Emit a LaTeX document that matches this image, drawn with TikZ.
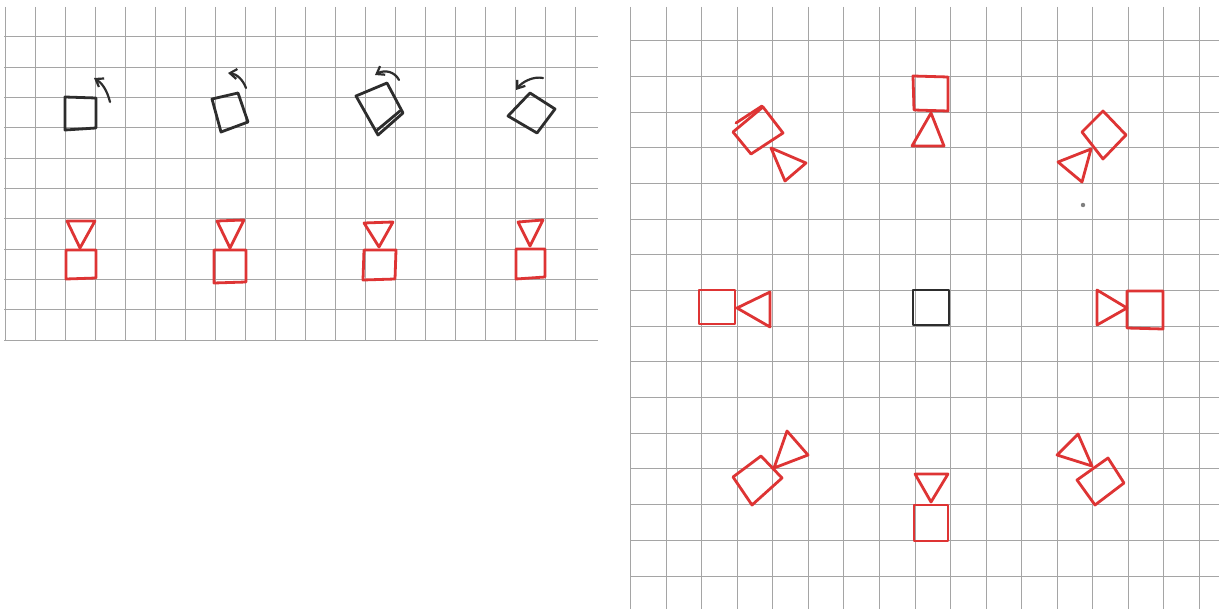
\documentclass[tikz,border=0pt]{standalone}
\usetikzlibrary{arrows.meta}
\definecolor{gridgray}{RGB}{165,165,165}
\definecolor{penred}{RGB}{222,52,52}
\definecolor{penblack}{RGB}{45,45,45}
\begin{document}
\begin{tikzpicture}[x=0.5pt,y=-0.5pt,
  gridline/.style={draw=gridgray,line width=0.5pt},
  redpen/.style={draw=penred,line width=1.4pt,line join=round,line cap=round},
  blackpen/.style={draw=penblack,line width=1.4pt,line join=round,line cap=round},
  turn/.style={draw=penblack,line width=1.1pt,line cap=round,-{Straight Barb[length=3.5pt,width=5pt]}}]
\useasboundingbox[fill=white] (0,0) rectangle (1219,609);
% grids
\foreach \k in {0,...,19} \draw[gridline] ({5+30*\k},7) -- ({5+30*\k},340);
\foreach \k in {0,...,10} \draw[gridline] (4,{37+30.3*\k}) -- (598,{37+30.3*\k});
\foreach \k in {0,...,16} \draw[gridline] ({630.7+35.54*\k},7) -- ({630.7+35.54*\k},609);
\foreach \k in {0,...,15} \draw[gridline] (630.7,{40.7+35.69*\k}) -- (1219,{40.7+35.69*\k});
% left panel: black rotating squares
\draw[blackpen] (65,97) -- (96,98) -- (96,128) -- (65,130) -- cycle;
\draw[turn] (110,102) .. controls (107,90) and (102,83) .. (94,78);
\draw[blackpen] (212,99) -- (238,93) -- (248,122) -- (221,132) -- cycle;
\draw[turn] (246,88) .. controls (243,80) and (237,74) .. (228,73);
\draw[blackpen] (356,96) -- (387,83) -- (403,113) -- (378,135) -- cycle;
\draw[blackpen] (400,111) -- (376,131);
\draw[turn] (399,80) .. controls (395,72) and (385,69) .. (375,75);
\draw[blackpen] (508,116) -- (530,93) -- (555,109) -- (537,133) -- cycle;
\draw[turn] (543,78) .. controls (533,76) and (522,82) .. (516,90);
% left panel: red cameras
\draw[redpen] (67,221) -- (95,221) -- (80,248) -- cycle;
\draw[redpen] (66,250) -- (96,250) -- (96,278) -- (66,279) -- cycle;
\draw[redpen] (217,221) -- (244,220) -- (230,248) -- cycle;
\draw[redpen] (214,250) -- (246,250) -- (246,282) -- (214,283) -- cycle;
\draw[redpen] (364,223) -- (393,222) -- (379,247) -- cycle;
\draw[redpen] (364,250) -- (396,250) -- (395,279) -- (363,280) -- cycle;
\draw[redpen] (518,222) -- (543,220) -- (530,246) -- cycle;
\draw[redpen] (516,249) -- (545,249) -- (545,277) -- (516,279) -- cycle;
% right panel: centre object
\draw[blackpen] (913,290) -- (949,290) -- (949,325) -- (913,325) -- cycle;
% N
\draw[redpen] (913,76) -- (948,77) -- (948,111) -- (914,110) -- cycle;
\draw[redpen] (931,113) -- (944,146) -- (912,146) -- cycle;
% S
\draw[redpen] (915,474) -- (948,474) -- (931,502) -- cycle;
\draw[redpen] (914,505) -- (948,505) -- (948,541) -- (914,541) -- cycle;
% W
\draw[redpen] (699,290) -- (735,290) -- (735,324) -- (699,324) -- cycle;
\draw[redpen] (737,308) -- (770,292) -- (770,327) -- cycle;
% E
\draw[redpen] (1097,290) -- (1127,308) -- (1097,325) -- cycle;
\draw[redpen] (1127,291) -- (1163,291) -- (1163,329) -- (1127,328) -- cycle;
% NW
\draw[redpen] (763,107) -- (783,133) -- (751,154) -- (733,132) -- cycle;
\draw[redpen] (736,123) -- (762,106);
\draw[redpen] (771,148) -- (806,163) -- (785,181) -- cycle;
% NE
\draw[redpen] (1103,111) -- (1126,135) -- (1103,159) -- (1082,132) -- cycle;
\draw[redpen] (1091,149) -- (1058,162) -- (1082,182) -- cycle;
% SW
\draw[redpen] (761,456) -- (782,478) -- (752,505) -- (733,477) -- cycle;
\draw[redpen] (774,468) -- (787,431) -- (808,455) -- cycle;
% SE
\draw[redpen] (1108,458) -- (1124,483) -- (1095,505) -- (1077,480) -- cycle;
\draw[redpen] (1092,466) -- (1078,434) -- (1057,455) -- cycle;
% speck
\fill[gray] (1083,205) circle (2.2);
\end{tikzpicture}
\end{document}
